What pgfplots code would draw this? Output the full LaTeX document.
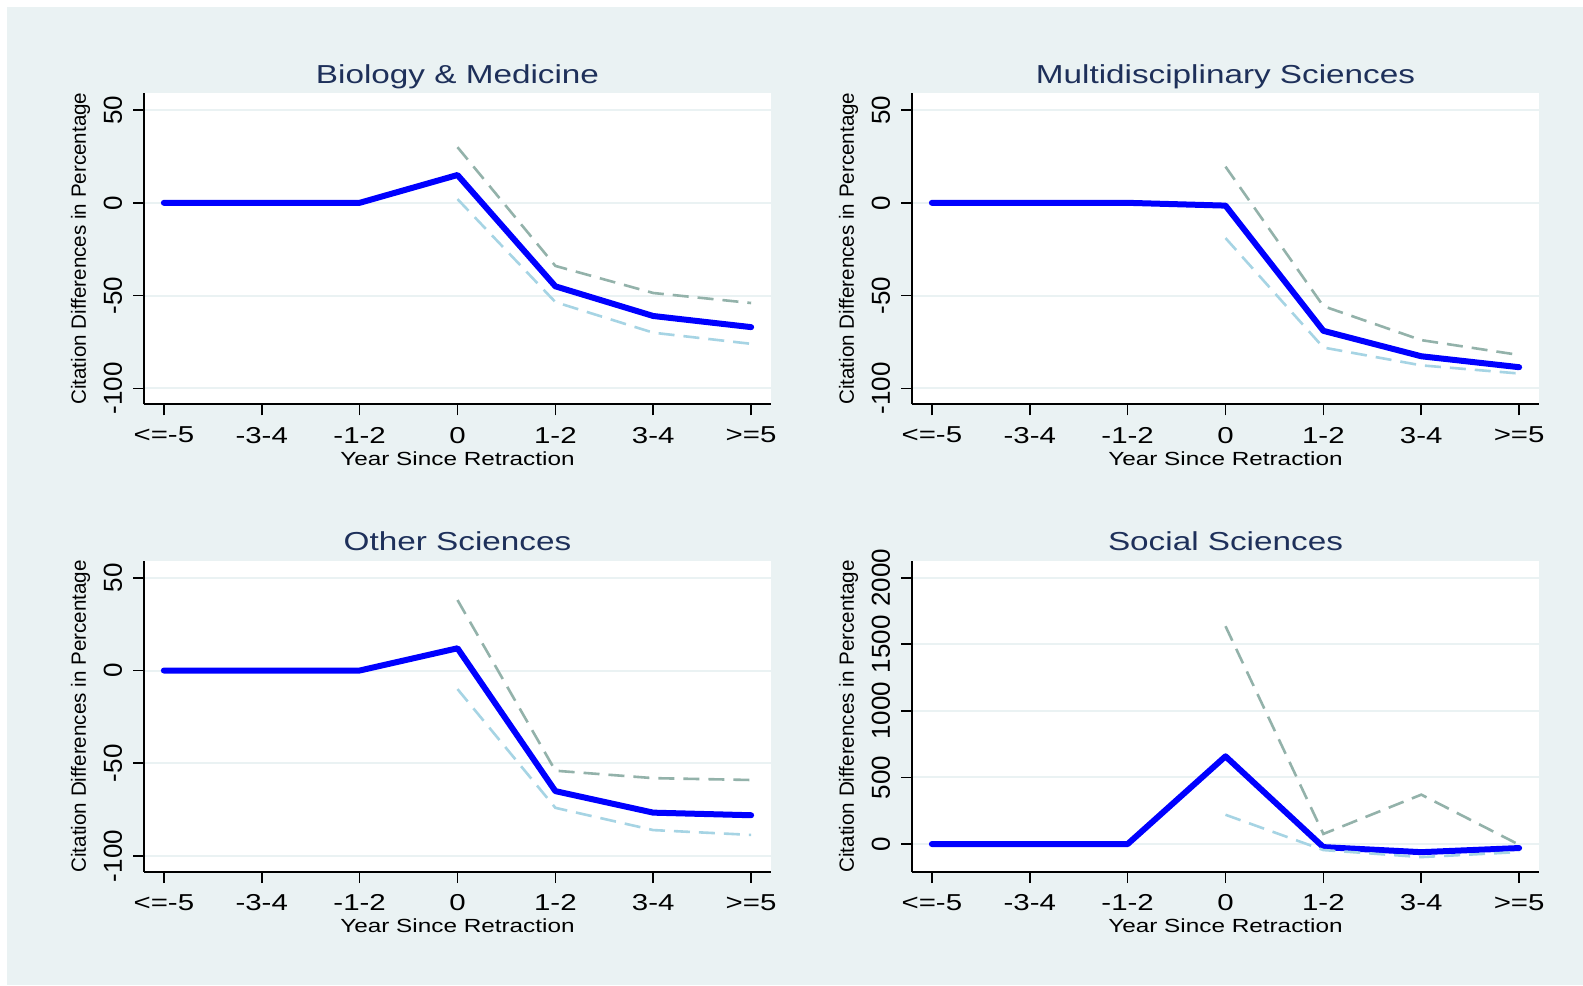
\documentclass[border=0pt]{standalone}
\usepackage{fontspec}
\usepackage{pgfplots}
\pgfplotsset{compat=1.18}
\newfontfamily\hfont[FakeStretch=1.28]{Liberation Sans}
\newfontfamily\vfont{Liberation Sans}
\definecolor{ltbg}{RGB}{234,242,243}
\definecolor{navyt}{RGB}{30,48,90}
\definecolor{mainb}{RGB}{0,0,255}
\definecolor{upc}{RGB}{147,178,170}
\definecolor{loc}{RGB}{166,212,228}
\pgfplotsset{
 panel/.style={
  scale only axis, width=313.2pt, height=155.65pt,
  xmin=-0.2, xmax=6.2,
  axis background/.style={fill=white},
  axis x line*=bottom, axis y line*=left,
  axis line style={black, line width=0.85pt, -},
  xtick={0,...,6},
  xticklabels={{<=-5},{-3-4},{-1-2},{0},{1-2},{3-4},{>=5}},
  tick align=outside, major tick length=5.5pt,
  tick style={black, line width=0.85pt},
  ymajorgrids, grid style={color=ltbg, line width=1pt},
  xticklabel shift=2.3pt, yticklabel shift=2pt,
  xticklabel style={font=\hfont\fontsize{11.5}{13}\selectfont},
  yticklabel style={font=\vfont\fontsize{13}{15}\selectfont, rotate=90, anchor=south},
  title style={font=\hfont\fontsize{13}{15}\selectfont, color=navyt, at={(0.5,1)}, anchor=base, yshift=-1.1pt},
  xlabel={Year Since Retraction},
  ylabel={Citation Differences in Percentage},
  xlabel style={font=\hfont\fontsize{9.5}{11}\selectfont, yshift=2.8pt},
  ylabel style={font=\vfont\fontsize{10.3}{12}\selectfont},
  /pgf/number format/assume math mode=true,
  /pgf/number format/set thousands separator={},
  clip=false,
 },
 mainl/.style={color=mainb, line width=3pt, no marks, line join=round, line cap=round},
 upl/.style={color=upc, line width=1.3pt, no marks, dash pattern=on 8pt off 4.5pt},
 lol/.style={color=loc, line width=1.3pt, no marks, dash pattern=on 8pt off 4.5pt},
}
\begin{document}
\begin{tikzpicture}
\path[use as bounding box, fill=white] (0,0) rectangle (791.5pt,-492.5pt);
\fill[ltbg] (3.65pt,-3.35pt) rectangle (791.5pt,-492.5pt);

\begin{axis}[panel, at={(72.15pt,-46.5pt)}, anchor=north west,
  title={Biology \& Medicine}, ymin=-108.6, ymax=59.2, ytick={-100,-50,0,50}]
\addplot[mainl] coordinates {(0,0) (1,0) (2,0) (3,15) (4,-45) (5,-61) (6,-67)};
\addplot[upl] coordinates {(3,30) (4,-34) (5,-48.6) (6,-54)};
\addplot[lol] coordinates {(3,2) (4,-53.5) (5,-70) (6,-76)};
\end{axis}

\begin{axis}[panel, at={(456.15pt,-46.5pt)}, anchor=north west,
  title={Multidisciplinary Sciences}, ymin=-108.6, ymax=59.2, ytick={-100,-50,0,50}]
\addplot[mainl] coordinates {(0,0) (1,0) (2,0) (3,-1.5) (4,-69) (5,-82.7) (6,-88.6)};
\addplot[upl] coordinates {(3,19.5) (4,-55.7) (5,-74) (6,-82)};
\addplot[lol] coordinates {(3,-19) (4,-78) (5,-87.6) (6,-92)};
\end{axis}

\begin{axis}[panel, at={(72.15pt,-280.35pt)}, anchor=north west,
  title={Other Sciences}, ymin=-108.6, ymax=59.2, ytick={-100,-50,0,50}]
\addplot[mainl] coordinates {(0,0) (1,0) (2,0) (3,12) (4,-65) (5,-76.6) (6,-78)};
\addplot[upl] coordinates {(3,38) (4,-54) (5,-58) (6,-59)};
\addplot[lol] coordinates {(3,-10) (4,-74) (5,-86) (6,-88.6)};
\end{axis}

\begin{axis}[panel, at={(456.15pt,-280.35pt)}, anchor=north west,
  title={Social Sciences}, ymin=-210, ymax=2128, ytick={0,500,1000,1500,2000}]
\addplot[mainl] coordinates {(0,0) (1,0) (2,0) (3,659) (4,-23) (5,-61) (6,-30)};
\addplot[upl] coordinates {(3,1636) (4,76) (5,371) (6,-5)};
\addplot[lol] coordinates {(3,220) (4,-45) (5,-98) (6,-60)};
\end{axis}
\end{tikzpicture}
\end{document}
